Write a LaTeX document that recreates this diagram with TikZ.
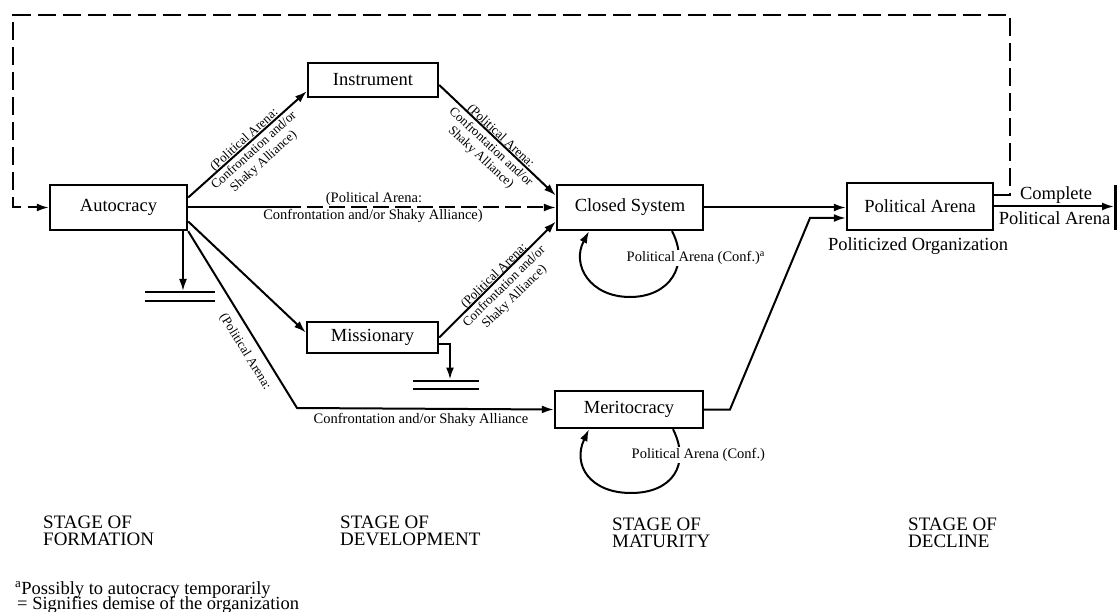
\documentclass[tikz,border=0pt]{standalone}
\usepackage{fontspec}
\setmainfont{Liberation Serif}
\usetikzlibrary{arrows.meta,calc}
\newcommand\boxfont{\fontsize{18.5}{20}\selectfont}
\newcommand\rlblfont{\fontsize{13}{14.5}\selectfont}
\newcommand\hlblfont{\fontsize{14.5}{15}\selectfont}
\newcommand\stagefont{\fontsize{19}{17}\selectfont}
\newcommand\notefont{\fontsize{18.5}{15}\selectfont}
\begin{document}
\begin{tikzpicture}[x=1pt,y=-1pt,
  box/.style={draw,line width=2.4pt,inner sep=0pt,font=\boxfont},
  conn/.style={line width=2pt},
  arr/.style={conn,-{Latex[length=12pt,width=8pt]}},
  rlbl/.style={font=\rlblfont,align=center,inner sep=0pt},
  hlbl/.style={font=\hlblfont,inner sep=0pt},
  stage/.style={font=\stagefont,anchor=base west,inner sep=0pt},
  note/.style={font=\notefont,anchor=base west,inner sep=0pt},
  bar/.style={line width=2pt}]
\useasboundingbox (0,0) rectangle (1119,612);

% boxes
\node[box,minimum width=137pt,minimum height=45pt] (auto)   at (118.5,207.5) {Autocracy};
\node[box,minimum width=130pt,minimum height=34pt] (instr)  at (373,80)      {Instrument};
\node[box,minimum width=146pt,minimum height=45pt] (closed) at (630,207.5)   {Closed System};
\node[box,minimum width=131pt,minimum height=31pt] (miss)   at (372.5,337.5) {Missionary};
\node[box,minimum width=148pt,minimum height=37pt] (merit)  at (629,409.5)   {Meritocracy};
\node[box,minimum width=146pt,minimum height=47pt] (parena) at (920,206.5)   {Political Arena};

% helper coordinates
\coordinate (hsplit) at (285,207.5);
\coordinate (bendA)  at (297,408);
\coordinate (ad)     at (183,291);
\coordinate (md)     at (450,379.5);
\coordinate (bendM1) at (730,409.5);
\coordinate (bendM2) at (810,218);
\coordinate (fbR)    at (1010,15);
\coordinate (fbL)    at (13,207.5);
\coordinate (endC)   at (1114,206.5);

% demise bars
\draw[bar] (145,292) -- (215,292) (145,301.5) -- (215,301.5);
\draw[bar] (413,380.5) -- (479,380.5) (413,389) -- (479,389);
\draw[line width=2.2pt] (1115.5,185) -- (1115.5,230);

% connectors
\draw[arr] ([yshift=10pt]auto.east) -- ([yshift=7pt]instr.south west);
\draw[conn] (auto.east) -- (hsplit);
\draw[arr,dash pattern=on 16pt off 6pt] (hsplit) -- (closed.west);
\draw[arr] ([yshift=-14pt]auto.east) -- ([yshift=5pt]miss.west);
\draw[arr] (auto.south east) -- (bendA) -- (merit.west);
\draw[arr] ([yshift=-5pt]instr.east) -- ([yshift=12pt]closed.west);
\draw[arr] (miss.east) -- ([yshift=-14pt]closed.west);
\draw[arr] ([yshift=-6pt]miss.east) -| (md);
\draw[arr] ([xshift=64.5pt]auto.south) -- (ad);
\draw[arr] (closed.east) -- (closed.east -| parena.west);
\draw[arr] (merit.east) -- (bendM1) -- (bendM2) -- (bendM2 -| parena.west);
\draw[arr] (parena.east) -- (endC);
\draw[arr,dash pattern=on 18pt off 7pt] ([yshift=11.5pt]parena.east) -| (fbR) -| (fbL) -- (auto.west);

% self loops
\draw[arr] ([xshift=42pt]closed.south) .. controls (690,265) and (670,297) .. (630,297)
  .. controls (590,297) and (571,265) .. ([xshift=-41pt]closed.south);
\draw[arr] ([xshift=44pt]merit.south) .. controls (691,465) and (672,493) .. (631,493)
  .. controls (590,493) and (572,465) .. ([xshift=-40pt]merit.south);
\node[hlbl,fill=white,anchor=west,inner sep=1.5pt] (lpc) at (625,258) {Political Arena (Conf.)\textsuperscript{a}};
\node[hlbl,fill=white,anchor=west,inner sep=1.5pt] (lpm) at (630,455) {Political Arena (Conf.)};

% connector labels
\node[rlbl,rotate=42] (l1) at (254.2,150.9) {(Political Arena:\\Confrontation and/or\\Shaky Alliance)};
\node[rlbl,rotate=-42.9] (l2) at (490.7,147.3) {(Political Arena:\\Confrontation and/or\\Shaky Alliance)};
\node[rlbl,rotate=44.3] (l3) at (504.5,286.7) {(Political Arena:\\Confrontation and/or\\Shaky Alliance)};
\node[rlbl,rotate=-58.3] (l4) at (245,352) {(Political Arena:};
\node[hlbl] (h1) at (374,199.5) {(Political Arena:};
\node[hlbl] (h2) at (373,216) {Confrontation and/or Shaky Alliance)};
\node[hlbl] (h3) at (421,420) {Confrontation and/or Shaky Alliance};

% right side labels
\node[font=\boxfont,anchor=base,inner sep=0pt] (po) at (918,251) {Politicized Organization};
\node[font=\boxfont,anchor=base,inner sep=0pt] (cp1) at (1056,200) {Complete};
\node[font=\boxfont,anchor=base,inner sep=0pt] (cp2) at (1054.5,225) {Political Arena};

% stages
\node[stage] (s1a) at (43,528) {STAGE OF};
\node[stage] (s1b) at (43,545) {FORMATION};
\node[stage] (s2a) at (340,528) {STAGE OF};
\node[stage] (s2b) at (340,545) {DEVELOPMENT};
\node[stage] (s3a) at (612,530) {STAGE OF};
\node[stage] (s3b) at (612,547) {MATURITY};
\node[stage] (s4a) at (908,530) {STAGE OF};
\node[stage] (s4b) at (908,547) {DECLINE};

% footnotes
\node[note] (n1) at (15,594) {\textsuperscript{a}Possibly to autocracy temporarily};
\node[note] (n2) at (17,609) {= Signifies demise of the organization};
\end{tikzpicture}
\end{document}
